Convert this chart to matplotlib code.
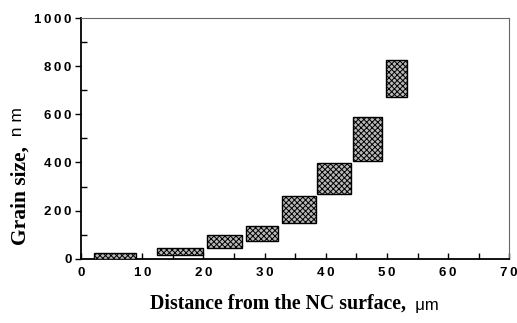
import matplotlib.pyplot as plt
from matplotlib.ticker import MultipleLocator, FuncFormatter

# distance ranges (um) and grain size ranges (nm) for each box
x_lo = [2.1, 12.4, 20.6, 27.0, 32.8, 38.6, 44.4, 49.8]
x_hi = [9.0, 20.0, 26.3, 32.2, 38.4, 44.1, 49.2, 53.3]
g_lo = [0, 15, 45, 75, 149, 271, 405, 672]
g_hi = [24, 45, 97, 138, 260, 398, 589, 827]

plt.rcParams['hatch.linewidth'] = 0.7

fig = plt.figure(figsize=(5.17, 3.23), dpi=100)
ax = fig.add_axes([0.157, 0.199, 0.828, 0.745])

widths = [b - a for a, b in zip(x_lo, x_hi)]
heights = [b - a for a, b in zip(g_lo, g_hi)]
ax.bar(x_lo, heights, width=widths, bottom=g_lo, align='edge',
       facecolor='#b8b8b8', edgecolor='black', hatch='xxxxxx', linewidth=1.0,
       zorder=3)

ax.set_xlim(0, 70)
ax.set_ylim(0, 1000)
ax.xaxis.set_major_locator(MultipleLocator(10))
ax.xaxis.set_minor_locator(MultipleLocator(5))
ax.yaxis.set_major_locator(MultipleLocator(200))
ax.yaxis.set_minor_locator(MultipleLocator(100))

# spaced-out digits like the original
spaced = FuncFormatter(lambda v, p: '\u2009'.join(str(int(v))))
ax.xaxis.set_major_formatter(spaced)
ax.yaxis.set_major_formatter(spaced)

ax.tick_params(which='both', top=False, right=False, width=1, color='black')
ax.tick_params(axis='x', which='both', direction='in', length=4, pad=6)
ax.tick_params(axis='y', which='major', direction='out', length=4, pad=3)
ax.tick_params(axis='y', which='minor', direction='in', length=4)

for lab in ax.get_xticklabels() + ax.get_yticklabels():
    lab.set_fontfamily('Liberation Sans')
    lab.set_fontweight('bold')
    lab.set_fontsize(9.5)

ax.spines['left'].set_linewidth(1.3)
ax.spines['bottom'].set_linewidth(1.3)
ax.spines['top'].set_color('#666666')
ax.spines['right'].set_color('#666666')

# axis titles: serif bold with sans units
xl = fig.text(0.29, 0.03, 'Distance from the NC surface,', ha='left',
              va='bottom', family='Liberation Serif', weight='bold',
              fontsize=14.3)
ax.annotate('  \u03bcm', xy=(1, 0), xycoords=xl, va='bottom', ha='left',
            family='Liberation Sans', fontsize=12)

yl = fig.text(0.02, 0.24, 'Grain size,', ha='left', va='bottom',
              rotation=90, family='Liberation Serif', weight='bold',
              fontsize=15.5)
ax.annotate('  n m', xy=(0, 1), xycoords=yl, va='bottom', ha='left',
            rotation=90, family='Liberation Sans', fontsize=12.5)

fig.savefig('out.png', dpi=100)
